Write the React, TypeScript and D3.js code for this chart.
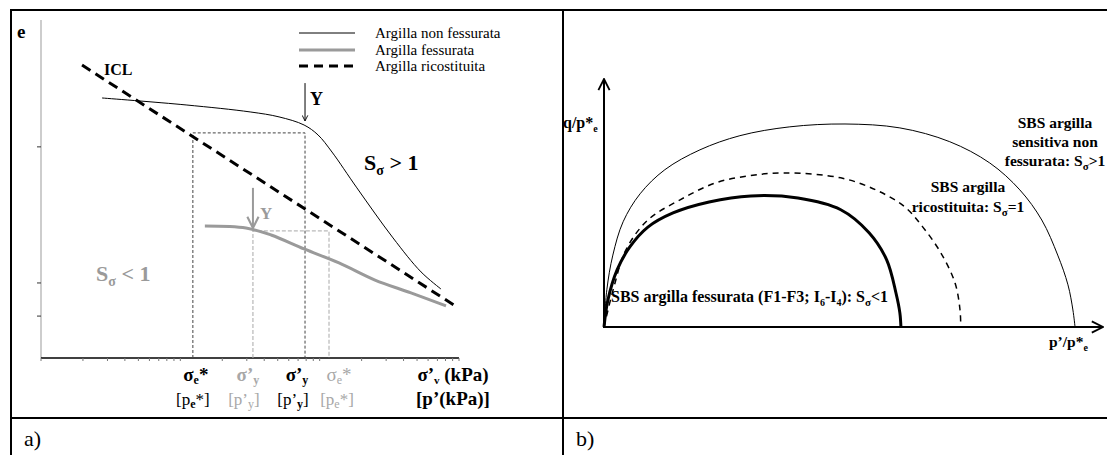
import React from "react";
import * as d3 from "d3";

// ---------- Panel a) : e – log σ'v ----------
const intactSigma = [2.74, 11.0, 31.7, 51.1, 77.3, 97.3, 122.6, 185, 336, 534, 743];
const intactE = [1.754, 1.723, 1.692, 1.67, 1.634, 1.59, 1.514, 1.355, 1.133, 0.982, 0.906];

const fissSigma = [15.0, 29.6, 44.8, 77.3, 137.7, 249.5, 452, 807];
const fissE = [1.186, 1.177, 1.146, 1.084, 1.022, 0.946, 0.889, 0.831];

const iclSigma = [1.97, 968];
const iclE = [1.9, 0.826];

// characteristic stresses
const intactSigmaE = 12.3; // σe*
const intactSigmaY = 78.5; // σ'y
const intactLevelE = 1.599;
const fissSigmaY = 33.2;
const fissSigmaE = 116.7;
const fissLevelE = 1.164;
const intactArrowE = [1.82, 1.652];
const fissArrowE = [1.355, 1.177];

const eTicks = [1.537, 0.933, 0.786];

const legendLabels = ["Argilla non fessurata", "Argilla fessurata", "Argilla ricostituita"];

// ---------- Panel b) : SBS in q/p*e – p'/p*e ----------
const outerP = [0, 0.008, 0.025, 0.054, 0.102, 0.172, 0.271, 0.384, 0.525, 0.681, 0.836, 0.977, 1.09, 1.175, 1.237, 1.282, 1.311, 1.325, 1.331];
const outerQ = [0, 0.105, 0.203, 0.297, 0.376, 0.444, 0.5, 0.54, 0.565, 0.573, 0.562, 0.523, 0.463, 0.387, 0.302, 0.203, 0.119, 0.048, 0];

const reconP = [0, 0.028, 0.062, 0.124, 0.215, 0.316, 0.412, 0.508, 0.669, 0.768, 0.85, 0.901, 0.952, 0.992, 1.006, 1.008];
const reconQ = [0, 0.113, 0.218, 0.302, 0.359, 0.407, 0.427, 0.435, 0.421, 0.387, 0.339, 0.282, 0.209, 0.124, 0.048, 0];

const fissP = [0, 0.011, 0.037, 0.073, 0.124, 0.195, 0.297, 0.415, 0.548, 0.669, 0.749, 0.799, 0.825, 0.836, 0.839];
const fissQ = [0, 0.076, 0.161, 0.226, 0.282, 0.322, 0.353, 0.37, 0.364, 0.331, 0.266, 0.189, 0.096, 0.04, 0];

const FONT = "'Liberation Serif', 'DejaVu Serif', serif";
const GRAY = "#9a9a9a";
const LGRAY = "#a8a8a8";

export default function App() {
  // scales panel a
  const xL = d3.scaleLog().domain([1, 1000]).range([41, 459]);
  const yL = d3.scaleLinear().domain([0.6, 2.1]).range([358, 20]);
  // scales panel b
  const xR = d3.scaleLinear().domain([0, 1.41]).range([604, 1103]);
  const yR = d3.scaleLinear().domain([0, 0.7]).range([327, 79]);

  const lineL = d3
    .line<[number, number]>()
    .x((d) => xL(d[0]))
    .y((d) => yL(d[1]))
    .curve(d3.curveCatmullRom.alpha(0.5));
  const lineR = d3
    .line<[number, number]>()
    .x((d) => xR(d[0]))
    .y((d) => yR(d[1]))
    .curve(d3.curveCatmullRom.alpha(0.5));

  const zip = (a: number[], b: number[]) => a.map((v, i) => [v, b[i]] as [number, number]);

  const xTicks = xL.ticks();
  const axisY = yL.range()[0];

  const legendY = [33, 50, 66];

  return (
    <svg
      width={1107}
      height={455}
      style={{ position: "absolute", left: 0, top: 0, background: "#fff", fontFamily: FONT }}
    >
      <defs>
        <marker id="arrB" viewBox="0 0 10 10" refX="9" refY="5" markerWidth="7" markerHeight="7" orient="auto">
          <path d="M1,1 L9,5 L1,9" fill="none" stroke="#000" strokeWidth="1.3" />
        </marker>
        <marker id="arrG" viewBox="0 0 10 10" refX="9" refY="5" markerWidth="7" markerHeight="7" orient="auto">
          <path d="M1,1 L9,5 L1,9" fill="none" stroke={GRAY} strokeWidth="1.5" />
        </marker>
      </defs>

      {/* table borders */}
      <line x1={11} y1={10} x2={1107} y2={10} stroke="#000" strokeWidth={2} />
      <line x1={11} y1={9} x2={11} y2={455} stroke="#000" strokeWidth={2} />
      <line x1={563} y1={9} x2={563} y2={455} stroke="#000" strokeWidth={2} />
      <line x1={11} y1={418} x2={1107} y2={418} stroke="#000" strokeWidth={2} />

      <text x={24} y={446} fontSize={22}>a)</text>
      <text x={576} y={446} fontSize={22}>b)</text>

      {/* ===== panel a ===== */}
      <line x1={41} y1={20} x2={41} y2={axisY} stroke="#bdbdbd" strokeWidth={1.5} />
      {eTicks.map((t, i) => (
        <line key={"et" + i} x1={37} x2={41} y1={yL(t)} y2={yL(t)} stroke="#333" strokeWidth={1} />
      ))}
      <line x1={xL(1)} y1={axisY} x2={xL(1000)} y2={axisY} stroke="#000" strokeWidth={1.5} />
      {xTicks.map((t, i) => (
        <line key={"xt" + i} x1={xL(t)} x2={xL(t)} y1={axisY} y2={axisY + 3} stroke="#777" strokeWidth={1} />
      ))}
      <text x={17} y={38} fontSize={19} fontWeight="bold">e</text>

      {/* legend */}
      <line x1={299} x2={355} y1={legendY[0]} y2={legendY[0]} stroke="#000" strokeWidth={1} />
      <line x1={299} x2={355} y1={legendY[1]} y2={legendY[1]} stroke={GRAY} strokeWidth={3} />
      <line x1={299} x2={355} y1={legendY[2]} y2={legendY[2]} stroke="#000" strokeWidth={3} strokeDasharray="9 6" />
      {legendLabels.map((l, i) => (
        <text key={l} x={375} y={legendY[i] + 5} fontSize={15}>{l}</text>
      ))}

      {/* guide lines black */}
      <path
        d={`M${xL(intactSigmaE)},${axisY}V${yL(intactLevelE)}H${xL(intactSigmaY)}V${axisY}`}
        fill="none"
        stroke="#444"
        strokeWidth={1}
        strokeDasharray="3 2"
      />
      {/* guide lines gray */}
      <path
        d={`M${xL(fissSigmaY)},${axisY}V${yL(fissLevelE)}H${xL(fissSigmaE)}V${axisY}`}
        fill="none"
        stroke={LGRAY}
        strokeWidth={1}
        strokeDasharray="4 2"
      />

      {/* curves */}
      <path d={lineL(zip(fissSigma, fissE)) || ""} fill="none" stroke={GRAY} strokeWidth={3} />
      <path d={lineL(zip(intactSigma, intactE)) || ""} fill="none" stroke="#000" strokeWidth={1} />
      <path d={lineL(zip(iclSigma, iclE)) || ""} fill="none" stroke="#000" strokeWidth={3} strokeDasharray="10 6" />

      <text x={104} y={75} fontSize={16} fontWeight="bold">ICL</text>

      {/* yield arrows */}
      <line
        x1={xL(intactSigmaY)}
        x2={xL(intactSigmaY)}
        y1={yL(intactArrowE[0])}
        y2={yL(intactArrowE[1])}
        stroke="#000"
        strokeWidth={1}
        markerEnd="url(#arrB)"
      />
      <text x={310} y={105} fontSize={18} fontWeight="bold">Y</text>
      <line
        x1={xL(fissSigmaY)}
        x2={xL(fissSigmaY)}
        y1={yL(fissArrowE[0])}
        y2={yL(fissArrowE[1])}
        stroke={GRAY}
        strokeWidth={2}
        markerEnd="url(#arrG)"
      />
      <text x={260} y={219} fontSize={17} fontWeight="bold" fill={GRAY}>Y</text>

      <text x={364} y={170} fontSize={22} fontWeight="bold">
        S<tspan dy={5} fontSize={14}>σ</tspan>
        <tspan dy={-5}> &gt; 1</tspan>
      </text>
      <text x={96} y={281} fontSize={22} fontWeight="bold" fill={GRAY}>
        S<tspan dy={5} fontSize={14}>σ</tspan>
        <tspan dy={-5}> &lt; 1</tspan>
      </text>

      {/* axis labels panel a */}
      <g fontSize={19}>
        <text x={xL(intactSigmaE) + 3} y={381} textAnchor="middle" fontWeight="bold">
          σ<tspan dy={3} fontSize={12}>e</tspan>
          <tspan dy={-3}>*</tspan>
        </text>
        <text x={xL(intactSigmaE)} y={405} textAnchor="middle" fontSize={17}>
          [p<tspan dy={3} fontSize={12} fontWeight="bold">e</tspan>
          <tspan dy={-3}>*]</tspan>
        </text>

        <text x={xL(fissSigmaY) - 5} y={381} textAnchor="middle" fontWeight="bold" fill={LGRAY}>
          σ’<tspan dy={3} fontSize={12}>y</tspan>
        </text>
        <text x={xL(fissSigmaY) - 9} y={405} textAnchor="middle" fontSize={17} fill={LGRAY}>
          [p’<tspan dy={3} fontSize={12}>y</tspan>
          <tspan dy={-3}>]</tspan>
        </text>

        <text x={xL(intactSigmaY) - 8} y={381} textAnchor="middle" fontWeight="bold">
          σ’<tspan dy={3} fontSize={12}>y</tspan>
        </text>
        <text x={xL(intactSigmaY) - 12} y={405} textAnchor="middle" fontSize={17}>
          [p’<tspan dy={3} fontSize={12} fontWeight="bold">y</tspan>
          <tspan dy={-3}>]</tspan>
        </text>

        <text x={xL(fissSigmaE) + 10} y={381} textAnchor="middle" fill={LGRAY}>
          σ<tspan dy={3} fontSize={12}>e</tspan>
          <tspan dy={-3}>*</tspan>
        </text>
        <text x={xL(fissSigmaE) + 8} y={405} textAnchor="middle" fontSize={17} fill={LGRAY}>
          [p<tspan dy={3} fontSize={12}>e</tspan>
          <tspan dy={-3}>*]</tspan>
        </text>

        <text x={453} y={381} textAnchor="middle" fontWeight="bold">
          σ’<tspan dy={3} fontSize={11}>v</tspan>
          <tspan dy={-3}> (kPa)</tspan>
        </text>
        <text x={453} y={405} textAnchor="middle" fontWeight="bold">[p’(kPa)]</text>
      </g>

      {/* ===== panel b ===== */}
      <line x1={xR(0)} y1={yR(0) + 1} x2={xR(0)} y2={yR(0.7)} stroke="#000" strokeWidth={2} markerEnd="url(#arrB)" />
      <line x1={xR(0)} y1={yR(0)} x2={xR(1.41)} y2={yR(0)} stroke="#000" strokeWidth={2} markerEnd="url(#arrB)" />

      <path d={lineR(zip(outerP, outerQ)) || ""} fill="none" stroke="#000" strokeWidth={1} />
      <path d={lineR(zip(reconP, reconQ)) || ""} fill="none" stroke="#000" strokeWidth={1.5} strokeDasharray="6 5" />
      <path d={lineR(zip(fissP, fissQ)) || ""} fill="none" stroke="#000" strokeWidth={3} />

      <g fontSize={15.5} fontWeight="bold">
        <text x={563} y={128} fontSize={16}>
          q/p*<tspan dy={4} fontSize={10}>e</tspan>
        </text>
        <text x={1049} y={347}>
          p’/p*<tspan dy={4} fontSize={10}>e</tspan>
        </text>
        <text x={1055} y={128} textAnchor="middle">SBS argilla</text>
        <text x={1055} y={147} textAnchor="middle">sensitiva non</text>
        <text x={1055} y={166} textAnchor="middle">
          fessurata: S<tspan dy={4} fontSize={11}>σ</tspan>
          <tspan dy={-4}>&gt;1</tspan>
        </text>
        <text x={968} y={192} textAnchor="middle">SBS argilla</text>
        <text x={968} y={212} textAnchor="middle">
          ricostituita: S<tspan dy={4} fontSize={11}>σ</tspan>
          <tspan dy={-4}>=1</tspan>
        </text>
        <text x={611} y={302} fontSize={16}>
          SBS argilla fessurata (F1-F3; I<tspan dy={4} fontSize={10}>6</tspan>
          <tspan dy={-4}>-I</tspan>
          <tspan dy={4} fontSize={10}>4</tspan>
          <tspan dy={-4}>): S</tspan>
          <tspan dy={4} fontSize={11}>σ</tspan>
          <tspan dy={-4}>&lt;1</tspan>
        </text>
      </g>
    </svg>
  );
}
